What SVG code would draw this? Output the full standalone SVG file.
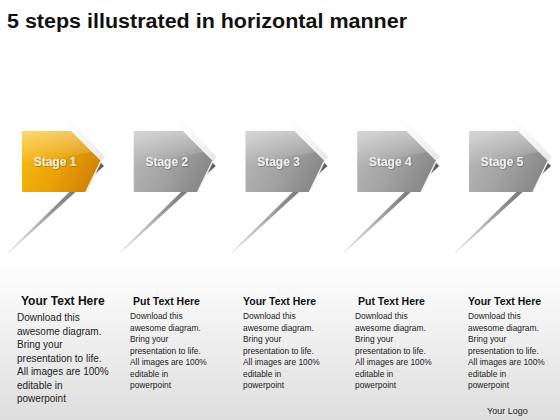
<svg xmlns="http://www.w3.org/2000/svg" width="560" height="420" viewBox="0 0 560 420">
<defs>
<linearGradient id="bg" x1="0" y1="0" x2="0" y2="1">
<stop offset="0" stop-color="#ffffff"/>
<stop offset="0.62" stop-color="#ffffff"/>
<stop offset="1" stop-color="#dedede"/>
</linearGradient>
<linearGradient id="gold" x1="0" y1="0" x2="1" y2="0.4">
<stop offset="0" stop-color="#f8bf10"/>
<stop offset="0.6" stop-color="#e9a206"/>
<stop offset="1" stop-color="#d58604"/>
</linearGradient>
<linearGradient id="gray" x1="0" y1="0" x2="1" y2="0.4">
<stop offset="0" stop-color="#bcbcbc"/>
<stop offset="0.6" stop-color="#a2a2a2"/>
<stop offset="1" stop-color="#8a8a8a"/>
</linearGradient>
<linearGradient id="gloss" x1="0" y1="0" x2="0" y2="1">
<stop offset="0" stop-color="#ffffff" stop-opacity="0.4"/>
<stop offset="1" stop-color="#ffffff" stop-opacity="0"/>
</linearGradient>
<linearGradient id="strip" x1="1" y1="0" x2="0" y2="1">
<stop offset="0" stop-color="#5a5a5a"/>
<stop offset="0.5" stop-color="#909090"/>
<stop offset="1" stop-color="#eeeeee"/>
</linearGradient>
<linearGradient id="refl" x1="0" y1="0" x2="1" y2="1">
<stop offset="0" stop-color="#ffffff" stop-opacity="0"/>
<stop offset="1" stop-color="#d4d4d4" stop-opacity="0.6"/>
</linearGradient>
<filter id="ts" x="-10%" y="-20%" width="130%" height="150%">
<feDropShadow dx="0.6" dy="0.6" stdDeviation="0.6" flood-color="#333" flood-opacity="0.6"/>
</filter>
</defs>
<style>
.title{font-family:"Liberation Sans",Arial,sans-serif;font-weight:bold;font-size:20px;fill:#111}
.stage{font-family:"Liberation Sans",Arial,sans-serif;font-weight:bold;font-size:12px;text-anchor:middle}
.h1{font-family:"Liberation Sans",Arial,sans-serif;font-weight:bold;font-size:12px;fill:#111}
.h{font-family:"Liberation Sans",Arial,sans-serif;font-weight:bold;font-size:10.5px;fill:#111}
.b1{font-family:"Liberation Sans",Arial,sans-serif;font-size:10px;fill:#222}
.b{font-family:"Liberation Sans",Arial,sans-serif;font-size:8.4px;fill:#222}
.logo{font-family:"Liberation Sans",Arial,sans-serif;font-size:9px;fill:#222}
</style>
<rect x="0" y="0" width="560" height="420" fill="url(#bg)"/>
<text class="title" x="7" y="28" textLength="400" lengthAdjust="spacingAndGlyphs">5 steps illustrated in horizontal manner</text>

<g id="connectors"></g>

<g id="stage1" transform="translate(22,131)">
<polygon points="28,-20 40,-20 83,26 79,30 50,0" fill="url(#refl)"/>
<polygon points="78,31 82,35 -13,122 -14,121" fill="url(#strip)"/>
<polygon points="0,0 49,0 79,30 64,61 0,61" fill="url(#gold)"/>
<polygon points="0,0 49,0 70,21 0,34" fill="url(#gloss)"/>
<line x1="79" y1="30" x2="64" y2="61" stroke="#fff3d0" stroke-width="1.5"/>
<text class="stage" x="33" y="35" fill="#fbf3dc" filter="url(#ts)">Stage 1</text>
</g>
<g id="stage2" transform="translate(133.75,131)">
<polygon points="28,-20 40,-20 83,26 79,30 50,0" fill="url(#refl)"/>
<polygon points="78,31 82,35 -13,122 -14,121" fill="url(#strip)"/>
<polygon points="0,0 49,0 79,30 64,61 0,61" fill="url(#gray)"/>
<polygon points="0,0 49,0 70,21 0,34" fill="url(#gloss)"/>
<line x1="79" y1="30" x2="64" y2="61" stroke="#f2f2f2" stroke-width="1.5"/>
<text class="stage" x="33" y="35" fill="#f0f0f0" filter="url(#ts)">Stage 2</text>
</g>
<g id="stage3" transform="translate(245.5,131)">
<polygon points="28,-20 40,-20 83,26 79,30 50,0" fill="url(#refl)"/>
<polygon points="78,31 82,35 -13,122 -14,121" fill="url(#strip)"/>
<polygon points="0,0 49,0 79,30 64,61 0,61" fill="url(#gray)"/>
<polygon points="0,0 49,0 70,21 0,34" fill="url(#gloss)"/>
<line x1="79" y1="30" x2="64" y2="61" stroke="#f2f2f2" stroke-width="1.5"/>
<text class="stage" x="33" y="35" fill="#f0f0f0" filter="url(#ts)">Stage 3</text>
</g>
<g id="stage4" transform="translate(357.25,131)">
<polygon points="28,-20 40,-20 83,26 79,30 50,0" fill="url(#refl)"/>
<polygon points="78,31 82,35 -13,122 -14,121" fill="url(#strip)"/>
<polygon points="0,0 49,0 79,30 64,61 0,61" fill="url(#gray)"/>
<polygon points="0,0 49,0 70,21 0,34" fill="url(#gloss)"/>
<line x1="79" y1="30" x2="64" y2="61" stroke="#f2f2f2" stroke-width="1.5"/>
<text class="stage" x="33" y="35" fill="#f0f0f0" filter="url(#ts)">Stage 4</text>
</g>
<g id="stage5" transform="translate(469,131)">
<polygon points="28,-20 40,-20 83,26 79,30 50,0" fill="url(#refl)"/>
<polygon points="78,31 82,35 -13,122 -14,121" fill="url(#strip)"/>
<polygon points="0,0 49,0 79,30 64,61 0,61" fill="url(#gray)"/>
<polygon points="0,0 49,0 70,21 0,34" fill="url(#gloss)"/>
<line x1="79" y1="30" x2="64" y2="61" stroke="#f2f2f2" stroke-width="1.5"/>
<text class="stage" x="33" y="35" fill="#f0f0f0" filter="url(#ts)">Stage 5</text>
</g>

<g id="text1">
<text class="h1" x="21" y="305">Your Text Here</text>
<text class="b1" x="17" y="321">Download this</text>
<text class="b1" x="17" y="334.5">awesome diagram.</text>
<text class="b1" x="17" y="348">Bring your</text>
<text class="b1" x="17" y="361.5">presentation to life.</text>
<text class="b1" x="17" y="375">All images are 100%</text>
<text class="b1" x="17" y="388.5">editable in</text>
<text class="b1" x="17" y="402">powerpoint</text>
</g>
<g id="text2">
<text class="h" x="133" y="305">Put Text Here</text>
<text class="b" x="130" y="319">Download this</text>
<text class="b" x="130" y="330.5">awesome diagram.</text>
<text class="b" x="130" y="342">Bring your</text>
<text class="b" x="130" y="353.5">presentation to life.</text>
<text class="b" x="130" y="365">All images are 100%</text>
<text class="b" x="130" y="376.5">editable in</text>
<text class="b" x="130" y="388">powerpoint</text>
</g>
<g id="text3">
<text class="h" x="243" y="305">Your Text Here</text>
<text class="b" x="243" y="319">Download this</text>
<text class="b" x="243" y="330.5">awesome diagram.</text>
<text class="b" x="243" y="342">Bring your</text>
<text class="b" x="243" y="353.5">presentation to life.</text>
<text class="b" x="243" y="365">All images are 100%</text>
<text class="b" x="243" y="376.5">editable in</text>
<text class="b" x="243" y="388">powerpoint</text>
</g>
<g id="text4">
<text class="h" x="358" y="305">Put Text Here</text>
<text class="b" x="355" y="319">Download this</text>
<text class="b" x="355" y="330.5">awesome diagram.</text>
<text class="b" x="355" y="342">Bring your</text>
<text class="b" x="355" y="353.5">presentation to life.</text>
<text class="b" x="355" y="365">All images are 100%</text>
<text class="b" x="355" y="376.5">editable in</text>
<text class="b" x="355" y="388">powerpoint</text>
</g>
<g id="text5">
<text class="h" x="468" y="305">Your Text Here</text>
<text class="b" x="468" y="319">Download this</text>
<text class="b" x="468" y="330.5">awesome diagram.</text>
<text class="b" x="468" y="342">Bring your</text>
<text class="b" x="468" y="353.5">presentation to life.</text>
<text class="b" x="468" y="365">All images are 100%</text>
<text class="b" x="468" y="376.5">editable in</text>
<text class="b" x="468" y="388">powerpoint</text>
</g>
<text class="logo" x="487" y="414">Your Logo</text>
</svg>
